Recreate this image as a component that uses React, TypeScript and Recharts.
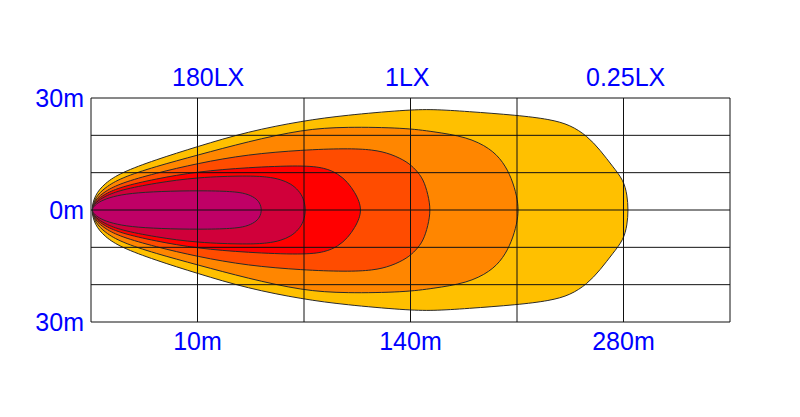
import React from "react";
import { CartesianGrid, Scatter, ScatterChart, XAxis, YAxis } from "recharts";

// distance along the beam (grid units, 10 per column) and half width (m)
const yellowX = [0, 0.35, 1.3, 2.8, 6.0, 10.0, 14.7, 19.9, 23.9, 29.5, 32.1, 35.3, 40.0, 43.1, 45.0, 46.6, 47.8, 49.0, 50.0, 50.35, 50.45];
const yellowH = [0, 4.0, 7.2, 10.0, 13.4, 17.0, 21.0, 23.9, 25.4, 26.8, 27.0, 26.4, 25.4, 24.3, 22.8, 19.8, 16.1, 11.6, 8.0, 4.0, 0];

const orangeX = [0, 0.4, 1.3, 2.8, 6.0, 10.0, 14.7, 19.9, 23.9, 29.5, 32.1, 35.3, 37.5, 38.7, 39.5, 40.0, 40.15];
const orangeH = [0, 3.4, 6.0, 8.6, 11.6, 14.7, 18.3, 21.6, 22.3, 22.0, 21.0, 19.6, 16.5, 12.9, 8.5, 3.6, 0];

const orangeRedX = [0, 0.4, 1.3, 2.8, 6.0, 10.0, 14.7, 19.9, 23.9, 26.5, 28.2, 29.7, 30.5, 31.2, 31.65, 31.9];
const orangeRedH = [0, 2.8, 5.0, 7.2, 9.8, 12.5, 14.9, 16.1, 16.5, 16.2, 15.0, 12.9, 10.8, 8.3, 4.2, 0];

const redX = [0, 0.4, 1.3, 2.8, 6.0, 10.0, 14.7, 19.9, 22.0, 23.2, 24.1, 24.8, 25.2, 25.35];
const redH = [0, 2.4, 4.3, 6.2, 8.3, 10.3, 11.4, 12.0, 11.3, 9.7, 7.5, 4.6, 2.2, 0];

const crimsonX = [0, 0.4, 1.3, 2.8, 6.0, 10.0, 14.7, 16.6, 17.8, 18.8, 19.5, 19.95, 20.2];
const crimsonH = [0, 2.0, 3.7, 5.4, 7.2, 8.8, 9.2, 8.9, 8.2, 7.0, 5.2, 3.2, 0];

const magentaX = [0, 0.4, 0.9, 2.0, 3.7, 6.5, 10.2, 13.3, 14.6, 15.4, 15.85, 16.05];
const magentaH = [0, 1.4, 2.4, 3.6, 4.5, 5.0, 5.2, 5.0, 4.4, 3.3, 2.0, 0];

const gridX = [0, 10, 20, 30, 40, 50, 60];
const gridY = [-30, -20, -10, 0, 10, 20, 30];
const bottomLabels: { [k: number]: string } = { 10: "10m", 30: "140m", 50: "280m" };
const topTicks = [11, 29.7, 50.2];
const topLabels = ["180LX", "1LX", "0.25LX"];
const sideLabels: { [k: number]: string } = { [-30]: "30m", 0: "0m", 30: "30m" };

// closed outline: along the top edge, back along the bottom edge
function outline(xs: number[], hs: number[]) {
  const top = xs.map((x, i) => ({ x, y: hs[i] }));
  const bottom = xs
    .slice(1, -1)
    .map((x, i) => ({ x, y: -hs[i + 1] }))
    .reverse();
  return [...top, ...bottom];
}

const zones = [
  { name: "yellow", color: "#ffc000", data: outline(yellowX, yellowH) },
  { name: "orange", color: "#ff8600", data: outline(orangeX, orangeH) },
  { name: "orangeRed", color: "#ff4c00", data: outline(orangeRedX, orangeRedH) },
  { name: "red", color: "#ff0000", data: outline(redX, redH) },
  { name: "crimson", color: "#d0003a", data: outline(crimsonX, crimsonH) },
  { name: "magenta", color: "#bf0066", data: outline(magentaX, magentaH) },
];

// anchors for the top (lux) axis so it has a series of its own
const topAnchors = topTicks.map((x) => ({ x, y: 0 }));

const NoDot = () => null;

const tickStyle = { fill: "#0000ff", fontSize: 25, fontFamily: "Liberation Sans, Arial, sans-serif" };

export default function App() {
  return (
    <div style={{ position: "absolute", left: 0, top: 0, background: "#fff" }}>
      <ScatterChart width={800} height={417} margin={{ top: 58, right: 70, bottom: 55, left: 0 }}>
        <XAxis
          dataKey="x"
          type="number"
          domain={[0, 60]}
          ticks={gridX}
          interval={0}
          tickFormatter={(v: number) => bottomLabels[v] || ""}
          tick={tickStyle}
          tickLine={false}
          axisLine={false}
          tickMargin={4}
          height={40}
        />
        <XAxis
          xAxisId="top"
          dataKey="x"
          orientation="top"
          type="number"
          domain={[0, 60]}
          allowDataOverflow
          ticks={topTicks}
          interval={0}
          tickFormatter={(v: number) => topLabels[topTicks.indexOf(v)] || ""}
          tick={tickStyle}
          tickLine={false}
          axisLine={false}
          tickMargin={6}
          height={40}
        />
        <YAxis
          dataKey="y"
          type="number"
          domain={[-30, 30]}
          ticks={gridY}
          interval={0}
          tickFormatter={(v: number) => sideLabels[v] || ""}
          tick={tickStyle}
          tickLine={false}
          axisLine={false}
          tickMargin={1}
          width={91}
        />
        {zones.map((z) => (
          <Scatter
            key={z.name}
            data={z.data}
            fill={z.color}
            line={{ fill: z.color, stroke: "#2a2a2a", strokeWidth: 1 }}
            lineJointType="basisClosed"
            shape={NoDot}
            isAnimationActive={false}
          />
        ))}
        <Scatter xAxisId="top" data={topAnchors} shape={NoDot} isAnimationActive={false} />
        <CartesianGrid stroke="#111" strokeWidth={1} zIndex={2000} />
      </ScatterChart>
    </div>
  );
}
